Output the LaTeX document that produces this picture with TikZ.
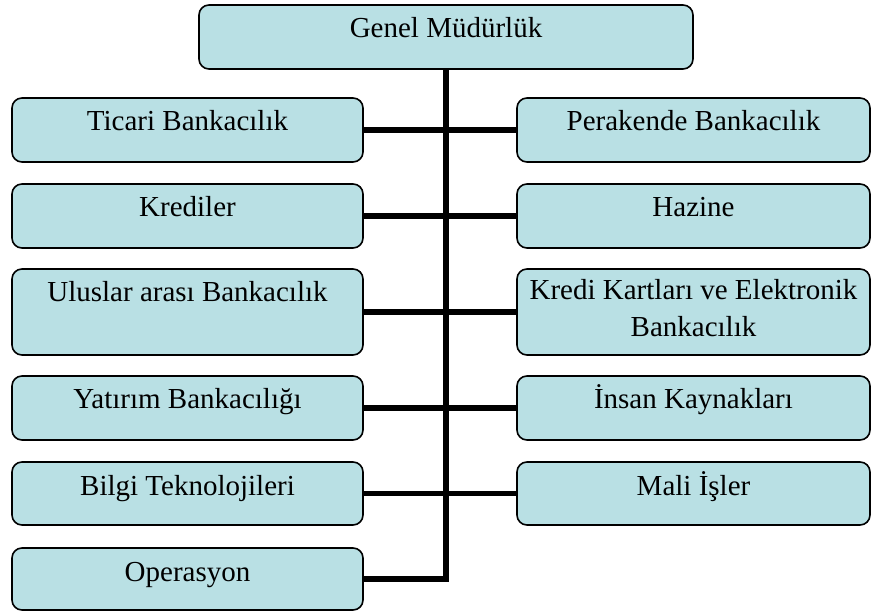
\documentclass[tikz,border=0pt]{standalone}
\usepackage{fontspec}
\setmainfont{Liberation Serif}
\definecolor{boxfill}{RGB}{185,224,228}
\tikzset{
  orgbox/.style={draw=black, line width=1.6pt, fill=boxfill, rounded corners=10pt, inner sep=0pt, outer sep=0pt},
  orgtext/.style={anchor=base, inner sep=0pt, font=\fontsize{29pt}{37pt}\selectfont, align=center},
  conn/.style={line width=5.5pt, draw=black, line join=miter}
}
\begin{document}
\begin{tikzpicture}[x=1pt,y=-1pt]
\useasboundingbox (0,0) rectangle (871,612);
% top
\node[orgbox, minimum width=494pt, minimum height=64pt] (gm) at (446,37) {};
\node[orgtext] (gmt) at (446,38) {Genel Müdürlük};
% left column
\node[orgbox, minimum width=351pt, minimum height=64pt] (l1) at (187.5,130) {};
\node[orgbox, minimum width=351pt, minimum height=64pt] (l2) at (187.5,216) {};
\node[orgbox, minimum width=351pt, minimum height=86pt] (l3) at (187.5,312) {};
\node[orgbox, minimum width=351pt, minimum height=64pt] (l4) at (187.5,408) {};
\node[orgbox, minimum width=351pt, minimum height=63pt] (l5) at (187.5,493.5) {};
\node[orgbox, minimum width=351pt, minimum height=62pt] (l6) at (187.5,579) {};
% right column
\node[orgbox, minimum width=353pt, minimum height=64pt] (r1) at (693.5,130) {};
\node[orgbox, minimum width=353pt, minimum height=64pt] (r2) at (693.5,216) {};
\node[orgbox, minimum width=353pt, minimum height=86pt] (r3) at (693.5,312) {};
\node[orgbox, minimum width=353pt, minimum height=64pt] (r4) at (693.5,408) {};
\node[orgbox, minimum width=353pt, minimum height=63pt] (r5) at (693.5,493.5) {};
% texts
\node[orgtext] (l1t) at ([yshift=-33pt]l1.north) {Ticari Bankacılık};
\node[orgtext] (l2t) at ([yshift=-33pt]l2.north) {Krediler};
\node[orgtext] (l3t) at ([yshift=-33pt]l3.north) {Uluslar arası Bankacılık};
\node[orgtext] (l4t) at ([yshift=-33pt]l4.north) {Yatırım Bankacılığı};
\node[orgtext] (l5t) at ([yshift=-33pt]l5.north) {Bilgi Teknolojileri};
\node[orgtext] (l6t) at ([yshift=-33pt]l6.north) {Operasyon};
\node[orgtext] (r1t) at ([yshift=-33pt]r1.north) {Perakende Bankacılık};
\node[orgtext] (r2t) at ([yshift=-33pt]r2.north) {Hazine};
\node[orgtext] (r3t) at ([yshift=-68pt]r3.north) {Kredi Kartları ve Elektronik\\Bankacılık};
\node[orgtext] (r4t) at ([yshift=-33pt]r4.north) {İnsan Kaynakları};
\node[orgtext] (r5t) at ([yshift=-33pt]r5.north) {Mali İşler};
% connectors
\draw[conn] (gm.south) -- (gm.south |- l6.east) -- (l6.east);
\draw[conn] (l1.east) -- (r1.west);
\draw[conn] (l2.east) -- (r2.west);
\draw[conn] (l3.east) -- (r3.west);
\draw[conn] (l4.east) -- (r4.west);
\draw[conn] (l5.east) -- (r5.west);
\end{tikzpicture}
\end{document}
